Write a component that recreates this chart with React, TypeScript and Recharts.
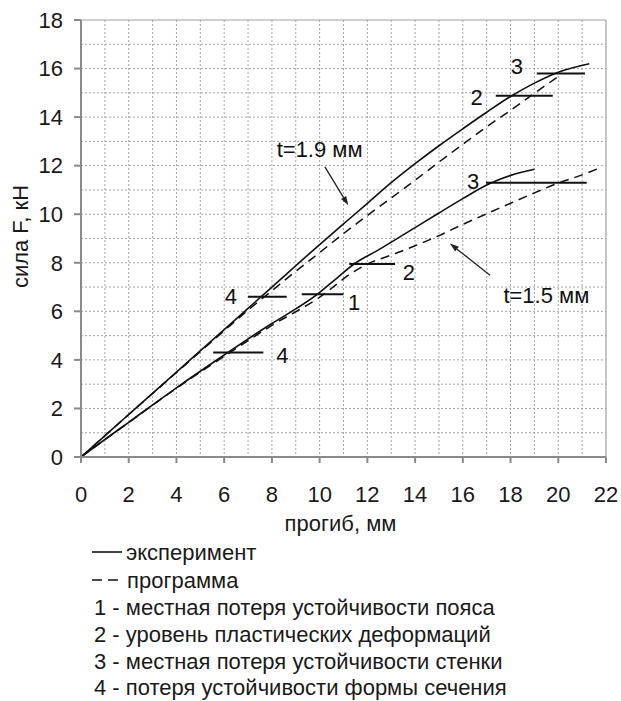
import React from 'react';
import { ComposedChart, Line, XAxis, YAxis, CartesianGrid, ReferenceLine, ReferenceDot } from 'recharts';

// прогиб (мм) / сила (кН)
const exp19 = [
  { x: 0, y: 0 }, { x: 2, y: 1.75 }, { x: 4, y: 3.5 }, { x: 6, y: 5.25 }, { x: 8, y: 7.0 },
  { x: 10, y: 8.75 }, { x: 11, y: 9.6 }, { x: 12, y: 10.45 }, { x: 13, y: 11.3 }, { x: 14, y: 12.08 },
  { x: 15, y: 12.82 }, { x: 16, y: 13.52 }, { x: 17, y: 14.2 }, { x: 18, y: 14.85 }, { x: 19, y: 15.4 },
  { x: 20, y: 15.85 }, { x: 21.3, y: 16.2 },
];
const prog19 = [
  { x: 0, y: 0 }, { x: 2, y: 1.75 }, { x: 4, y: 3.48 }, { x: 6, y: 5.2 }, { x: 7, y: 6.05 },
  { x: 8, y: 6.85 }, { x: 9, y: 7.65 }, { x: 10, y: 8.42 }, { x: 11, y: 9.2 }, { x: 12, y: 9.95 },
  { x: 13, y: 10.67 }, { x: 14, y: 11.4 }, { x: 15, y: 12.15 }, { x: 16, y: 12.88 }, { x: 17, y: 13.6 },
  { x: 18, y: 14.28 }, { x: 19, y: 14.98 }, { x: 19.95, y: 15.64 },
];
const exp15 = [
  { x: 0, y: 0 }, { x: 1, y: 0.72 }, { x: 2, y: 1.43 }, { x: 4, y: 2.85 }, { x: 6, y: 4.2 },
  { x: 8, y: 5.5 }, { x: 9, y: 6.1 }, { x: 9.9, y: 6.7 }, { x: 10.7, y: 7.35 }, { x: 11.44, y: 7.95 },
  { x: 12.5, y: 8.55 }, { x: 14, y: 9.45 }, { x: 15, y: 10.05 }, { x: 16, y: 10.64 }, { x: 17, y: 11.2 },
  { x: 17.5, y: 11.42 }, { x: 18, y: 11.6 }, { x: 19, y: 11.85 },
];
const prog15 = [
  { x: 0, y: 0 }, { x: 2, y: 1.42 }, { x: 4, y: 2.83 }, { x: 6, y: 4.15 }, { x: 8, y: 5.42 },
  { x: 10, y: 6.58 }, { x: 11.44, y: 7.64 }, { x: 12, y: 7.95 }, { x: 13, y: 8.32 }, { x: 14, y: 8.7 },
  { x: 15, y: 9.12 }, { x: 16, y: 9.58 }, { x: 17, y: 10.02 }, { x: 18, y: 10.45 }, { x: 19, y: 10.88 },
  { x: 20, y: 11.28 }, { x: 21, y: 11.62 }, { x: 21.65, y: 11.87 },
];

const xTicks = [0, 2, 4, 6, 8, 10, 12, 14, 16, 18, 20, 22];
const yTicks = [0, 2, 4, 6, 8, 10, 12, 14, 16, 18];
const xGrid = [1, 2, 3, 4, 5, 6, 7, 8, 9, 10, 11, 12, 13, 14, 15, 16, 17, 18, 19, 20, 21];
const yGrid = [1, 2, 3, 4, 5, 6, 7, 8, 9, 10, 11, 12, 13, 14, 15, 16, 17];

// horizontal marker segments: level, from, to
const markerLevel = [6.6, 6.7, 4.3, 7.95, 11.3, 14.88, 15.8];
const markerFrom = [7.0, 9.25, 5.54, 11.24, 16.97, 17.38, 19.1];
const markerTo = [8.62, 11.0, 7.64, 13.16, 21.19, 19.77, 21.12];
// marker numbers
const numText = ['4', '1', '4', '2', '3', '2', '3'];
const numX = [6.28, 11.44, 8.44, 13.74, 16.43, 16.58, 18.26];
const numY = [6.62, 6.4, 4.2, 7.6, 11.37, 14.82, 16.1];

const noteText = ['t=1.9 мм', 't=1.5 мм'];
const noteX = [8.2, 17.7];
const noteY = [12.37, 6.36];
const arrowFrom = [{ x: 10.22, y: 11.95 }, { x: 17.14, y: 7.49 }];
const arrowTo = [{ x: 11.2, y: 10.37 }, { x: 15.46, y: 8.79 }];

const legendItems = [
  '1 - местная потеря устойчивости пояса',
  '2 - уровень пластических деформаций',
  '3 - местная потеря устойчивости стенки',
  '4 - потеря устойчивости формы сечения',
];

const FONT = '"Liberation Sans", Arial, sans-serif';
const AXIS = '#8a8a8a';

const Arrow = (props: any) => {
  const { x1, y1, x2, y2 } = props;
  const a = Math.atan2(y2 - y1, x2 - x1);
  const L = 9, W = 3;
  const bx = x2 - L * Math.cos(a), by = y2 - L * Math.sin(a);
  const p1 = `${bx + W * Math.sin(a)},${by - W * Math.cos(a)}`;
  const p2 = `${bx - W * Math.sin(a)},${by + W * Math.cos(a)}`;
  return (
    <g>
      <line x1={x1} y1={y1} x2={bx} y2={by} stroke="#222" strokeWidth={1.3} />
      <polygon points={`${x2},${y2} ${p1} ${p2}`} fill="#222" />
    </g>
  );
};

const numShape = (label: string) => (props: any) => (
  <text x={props.cx} y={props.cy} dy="0.36em" textAnchor="middle" fontSize={22} fontFamily={FONT} fill="#111">
    {label}
  </text>
);

const noteShape = (label: string) => (props: any) => (
  <text x={props.cx} y={props.cy} fontSize={22} fontFamily={FONT} fill="#111">
    {label}
  </text>
);

const App: React.FC = () => {
  return (
    <div style={{ position: 'absolute', left: 0, top: 0, width: 621, height: 701, background: '#fff', fontFamily: FONT, overflow: 'hidden' }}>
      <ComposedChart width={621} height={701} margin={{ top: 20, right: 15, left: 20, bottom: 204 }}>
        <CartesianGrid
          horizontalValues={yGrid}
          verticalValues={xGrid}
          stroke="#a5a5a5"
          strokeDasharray="2 2"
        />
        <XAxis
          type="number"
          dataKey="x"
          domain={[0, 22]}
          ticks={xTicks}
          allowDataOverflow
          height={40}
          tickSize={6}
          tickMargin={23}
          stroke={AXIS}
          strokeWidth={2}
          tick={{ fill: '#1a1a1a', fontSize: 22, fontFamily: FONT }}
          label={{
            value: 'прогиб, мм',
            content: (p: any) => (
              <text x={p.viewBox.x + p.viewBox.width / 2 - 3} y={p.viewBox.y + 74} textAnchor="middle" fontSize={22} fontFamily={FONT} fill="#1a1a1a">
                прогиб, мм
              </text>
            ),
          }}
        />
        <YAxis
          type="number"
          dataKey="y"
          domain={[0, 18]}
          ticks={yTicks}
          allowDataOverflow
          width={61}
          tickSize={7}
          tickMargin={11}
          stroke={AXIS}
          strokeWidth={2}
          tick={{ fill: '#1a1a1a', fontSize: 22, fontFamily: FONT }}
          label={{
            value: 'сила F, кН',
            content: (p: any) => (
              <text transform={`translate(${p.viewBox.x + 7.5},${p.viewBox.y + p.viewBox.height / 2 - 2}) rotate(-90)`} textAnchor="middle" fontSize={22} fontFamily={FONT} fill="#1a1a1a">
                сила F, кН
              </text>
            ),
          }}
        />
        <ReferenceLine y={18} stroke="#a0a0a0" strokeWidth={1.2} />
        <ReferenceLine x={22} stroke="#a0a0a0" strokeWidth={1.2} />

        <Line data={exp19} dataKey="y" type="monotone" stroke="#111" strokeWidth={1.6} dot={false} isAnimationActive={false} />
        <Line data={prog19} dataKey="y" type="monotone" stroke="#111" strokeWidth={1.5} strokeDasharray="9 6" dot={false} isAnimationActive={false} />
        <Line data={exp15} dataKey="y" type="monotone" stroke="#111" strokeWidth={1.6} dot={false} isAnimationActive={false} />
        <Line data={prog15} dataKey="y" type="monotone" stroke="#111" strokeWidth={1.5} strokeDasharray="9 6" dot={false} isAnimationActive={false} />

        {markerLevel.map((lv, i) => (
          <ReferenceLine
            key={'m' + i}
            segment={[{ x: markerFrom[i], y: lv }, { x: markerTo[i], y: lv }]}
            stroke="#111"
            strokeWidth={2}
          />
        ))}
        {numText.map((t, i) => (
          <ReferenceDot key={'n' + i} x={numX[i]} y={numY[i]} r={0} shape={numShape(t)} />
        ))}
        {noteText.map((t, i) => (
          <ReferenceDot key={'t' + i} x={noteX[i]} y={noteY[i]} r={0} shape={noteShape(t)} />
        ))}
        {arrowFrom.map((a, i) => (
          <ReferenceLine key={'a' + i} segment={[a, arrowTo[i]]} shape={Arrow} />
        ))}
      </ComposedChart>

      <svg width={621} height={701} style={{ position: 'absolute', left: 0, top: 0, pointerEvents: 'none' }}>
        <g fontSize={22} fontFamily={FONT} fill="#1a1a1a">
          <line x1={92} y1={552} x2={122} y2={552} stroke="#111" strokeWidth={1.6} />
          <text x={126} y={560}>эксперимент</text>
          <line x1={92} y1={580} x2={122} y2={580} stroke="#111" strokeWidth={1.6} strokeDasharray="10 6" />
          <text x={127} y={588}>программа</text>
          {legendItems.map((t, i) => (
            <text key={t} x={94} y={615 + i * 26.8}>{t}</text>
          ))}
        </g>
      </svg>
    </div>
  );
};

export default App;
